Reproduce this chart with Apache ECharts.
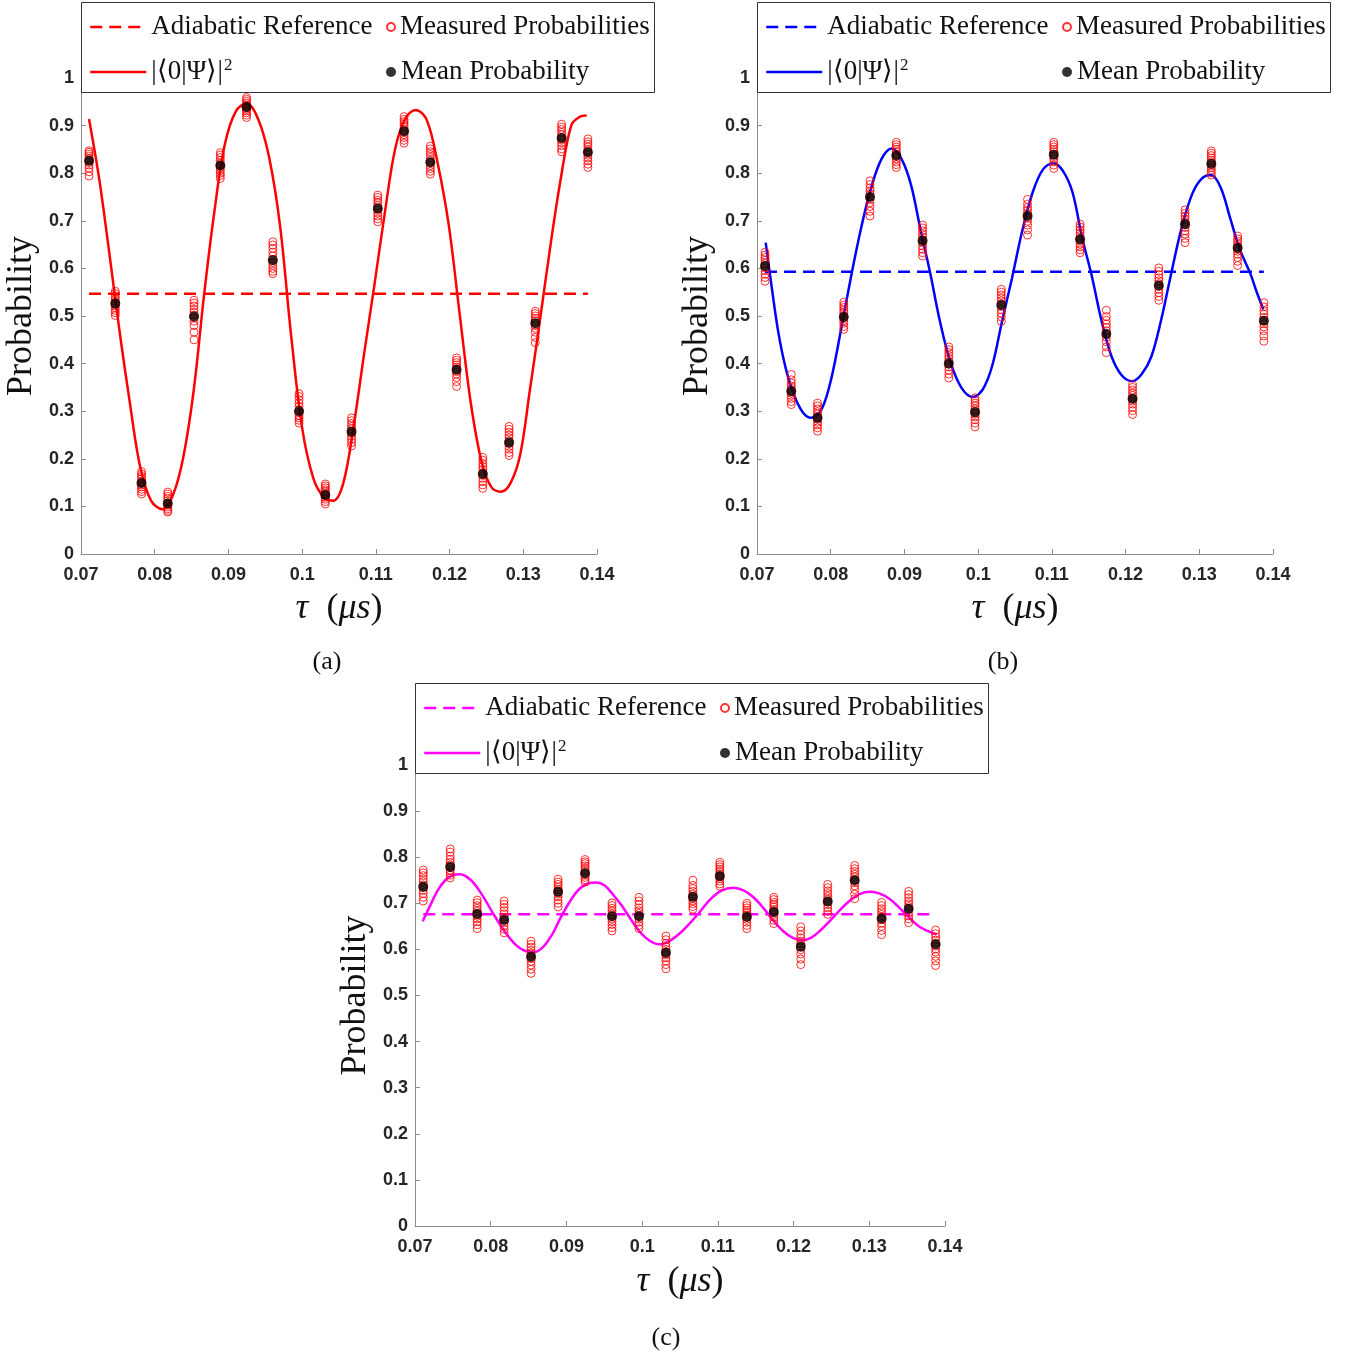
<!DOCTYPE html>
<html><head><meta charset="utf-8">
<script src="https://cdn.jsdelivr.net/npm/echarts@6/dist/echarts.min.js"></script>
<style>html,body{margin:0;padding:0;background:#fff}#c{width:1352px;height:1360px}</style>
</head><body><div id="c"></div>
<script>
// ---------- data ----------
const xTicks = [0.07, 0.08, 0.09, 0.1, 0.11, 0.12, 0.13, 0.14];
const yTicks = [0, 0.1, 0.2, 0.3, 0.4, 0.5, 0.6, 0.7, 0.8, 0.9, 1];
const tau = [0.07109, 0.07465, 0.07821, 0.08177, 0.08533, 0.08890, 0.09246, 0.09602, 0.09958, 0.10314,
             0.10670, 0.11026, 0.11383, 0.11739, 0.12095, 0.12451, 0.12807, 0.13163, 0.13520, 0.13876];
const tauStart = 0.07109, tauEnd = 0.13876;

// panel (a)
const meanA = [0.826, 0.526, 0.149, 0.106, 0.499, 0.816, 0.939, 0.617, 0.300, 0.124,
               0.257, 0.726, 0.888, 0.823, 0.387, 0.168, 0.234, 0.485, 0.874, 0.844];
const measA = [
  [0.847, 0.844, 0.840, 0.836, 0.831, 0.827, 0.822, 0.817, 0.811, 0.803, 0.794],
  [0.552, 0.547, 0.541, 0.536, 0.531, 0.526, 0.522, 0.517, 0.512, 0.507, 0.501],
  [0.173, 0.168, 0.163, 0.158, 0.153, 0.149, 0.145, 0.141, 0.136, 0.131, 0.126],
  [0.130, 0.126, 0.121, 0.117, 0.112, 0.107, 0.103, 0.099, 0.095, 0.091, 0.088],
  [0.533, 0.527, 0.521, 0.514, 0.508, 0.502, 0.496, 0.489, 0.480, 0.466, 0.450],
  [0.843, 0.838, 0.833, 0.827, 0.821, 0.816, 0.811, 0.806, 0.800, 0.795, 0.789],
  [0.959, 0.955, 0.951, 0.947, 0.943, 0.939, 0.935, 0.931, 0.927, 0.922, 0.917],
  [0.656, 0.649, 0.642, 0.634, 0.626, 0.619, 0.612, 0.606, 0.600, 0.594, 0.589],
  [0.337, 0.331, 0.324, 0.317, 0.310, 0.303, 0.297, 0.291, 0.286, 0.281, 0.275],
  [0.147, 0.143, 0.139, 0.135, 0.131, 0.127, 0.123, 0.119, 0.115, 0.110, 0.105],
  [0.286, 0.280, 0.274, 0.268, 0.263, 0.258, 0.253, 0.247, 0.241, 0.234, 0.227],
  [0.754, 0.749, 0.743, 0.738, 0.732, 0.727, 0.722, 0.716, 0.710, 0.704, 0.698],
  [0.919, 0.913, 0.908, 0.903, 0.898, 0.892, 0.887, 0.881, 0.875, 0.869, 0.863],
  [0.857, 0.851, 0.845, 0.839, 0.833, 0.827, 0.822, 0.816, 0.810, 0.804, 0.798],
  [0.412, 0.407, 0.402, 0.397, 0.392, 0.388, 0.383, 0.378, 0.371, 0.362, 0.352],
  [0.203, 0.197, 0.190, 0.184, 0.178, 0.171, 0.165, 0.159, 0.152, 0.145, 0.138],
  [0.268, 0.262, 0.256, 0.250, 0.244, 0.238, 0.232, 0.226, 0.220, 0.213, 0.207],
  [0.510, 0.505, 0.500, 0.495, 0.490, 0.485, 0.480, 0.474, 0.466, 0.455, 0.444],
  [0.903, 0.897, 0.892, 0.886, 0.881, 0.875, 0.870, 0.864, 0.858, 0.851, 0.845],
  [0.872, 0.866, 0.861, 0.855, 0.849, 0.844, 0.838, 0.832, 0.826, 0.819, 0.812]
];
const adiabaticA = 0.547;
const curveTauA = [0.07109, 0.07250, 0.07390, 0.07530, 0.07670, 0.07800, 0.07950, 0.08103,
                   0.08250, 0.08390, 0.08530, 0.08670, 0.08810, 0.08950, 0.09100, 0.09248,
                   0.09400, 0.09550, 0.09700, 0.09850, 0.10000, 0.10150, 0.10290, 0.10423,
                   0.10560, 0.10700, 0.10840, 0.10980, 0.11120, 0.11260, 0.11400, 0.11541,
                   0.11690, 0.11840, 0.11990, 0.12140, 0.12290, 0.12440, 0.12570, 0.12698,
                   0.12830, 0.12960, 0.13090, 0.13230, 0.13370, 0.13510, 0.13650, 0.13760, 0.13861];
const curveValA = [0.914, 0.785, 0.625, 0.460, 0.310, 0.185, 0.112, 0.094,
                   0.125, 0.205, 0.345, 0.545, 0.720, 0.860, 0.930, 0.947,
                   0.915, 0.835, 0.690, 0.460, 0.265, 0.160, 0.120, 0.112,
                   0.150, 0.270, 0.420, 0.565, 0.715, 0.850, 0.915, 0.933,
                   0.912, 0.820, 0.690, 0.500, 0.315, 0.190, 0.140, 0.131,
                   0.150, 0.210, 0.345, 0.495, 0.650, 0.790, 0.900, 0.918, 0.921];

// panel (b)
const meanB = [0.605, 0.342, 0.286, 0.498, 0.750, 0.837, 0.658, 0.400, 0.298, 0.523,
               0.710, 0.839, 0.661, 0.462, 0.326, 0.564, 0.693, 0.820, 0.643, 0.490];
const measB = [
  [0.634, 0.628, 0.623, 0.617, 0.611, 0.606, 0.601, 0.595, 0.588, 0.581, 0.573],
  [0.377, 0.366, 0.359, 0.353, 0.348, 0.343, 0.338, 0.333, 0.327, 0.320, 0.314],
  [0.317, 0.311, 0.305, 0.299, 0.294, 0.288, 0.283, 0.277, 0.271, 0.265, 0.258],
  [0.529, 0.523, 0.518, 0.512, 0.507, 0.501, 0.496, 0.490, 0.485, 0.478, 0.472],
  [0.784, 0.776, 0.769, 0.763, 0.757, 0.751, 0.745, 0.738, 0.730, 0.720, 0.710],
  [0.865, 0.860, 0.855, 0.850, 0.845, 0.840, 0.835, 0.830, 0.824, 0.818, 0.812],
  [0.691, 0.685, 0.679, 0.672, 0.666, 0.660, 0.654, 0.647, 0.640, 0.633, 0.626],
  [0.435, 0.429, 0.423, 0.417, 0.411, 0.405, 0.399, 0.393, 0.386, 0.378, 0.370],
  [0.328, 0.322, 0.317, 0.311, 0.305, 0.300, 0.294, 0.288, 0.282, 0.275, 0.267],
  [0.556, 0.550, 0.544, 0.538, 0.532, 0.526, 0.520, 0.513, 0.506, 0.498, 0.489],
  [0.745, 0.735, 0.728, 0.722, 0.716, 0.711, 0.705, 0.699, 0.691, 0.681, 0.670],
  [0.865, 0.860, 0.855, 0.850, 0.845, 0.840, 0.835, 0.830, 0.824, 0.817, 0.810],
  [0.693, 0.687, 0.681, 0.675, 0.669, 0.663, 0.657, 0.651, 0.645, 0.639, 0.633],
  [0.512, 0.499, 0.491, 0.483, 0.476, 0.469, 0.462, 0.455, 0.446, 0.435, 0.423],
  [0.356, 0.350, 0.344, 0.338, 0.333, 0.327, 0.321, 0.315, 0.308, 0.301, 0.293],
  [0.601, 0.594, 0.587, 0.580, 0.574, 0.568, 0.562, 0.556, 0.549, 0.541, 0.533],
  [0.723, 0.716, 0.710, 0.704, 0.698, 0.692, 0.686, 0.679, 0.672, 0.663, 0.654],
  [0.847, 0.842, 0.837, 0.832, 0.827, 0.822, 0.817, 0.812, 0.807, 0.801, 0.796],
  [0.668, 0.662, 0.657, 0.651, 0.646, 0.641, 0.636, 0.630, 0.623, 0.615, 0.606],
  [0.528, 0.519, 0.511, 0.504, 0.497, 0.490, 0.484, 0.477, 0.469, 0.458, 0.447]
];
const adiabaticB = 0.593;
const curveTauB = [0.07118, 0.07200, 0.07290, 0.07390, 0.07500, 0.07620, 0.07742,
                   0.07880, 0.08010, 0.08150, 0.08285, 0.08420, 0.08550, 0.08690, 0.08827,
                   0.08960, 0.09090, 0.09220, 0.09350, 0.09480, 0.09620, 0.09770, 0.09926,
                   0.10060, 0.10190, 0.10320, 0.10460, 0.10600, 0.10740, 0.10880, 0.11021,
                   0.11150, 0.11280, 0.11410, 0.11540, 0.11680, 0.11810, 0.11950, 0.12092,
                   0.12220, 0.12350, 0.12480, 0.12620, 0.12760, 0.12900, 0.13030, 0.13160,
                   0.13290, 0.13420, 0.13550, 0.13690, 0.13780, 0.13869];
const curveValB = [0.654, 0.560, 0.465, 0.390, 0.335, 0.298, 0.286,
                   0.305, 0.370, 0.480, 0.590, 0.690, 0.770, 0.830, 0.852,
                   0.830, 0.775, 0.680, 0.590, 0.490, 0.405, 0.350, 0.330,
                   0.345, 0.395, 0.486, 0.580, 0.680, 0.760, 0.808, 0.821,
                   0.805, 0.760, 0.665, 0.585, 0.486, 0.415, 0.375, 0.363,
                   0.378, 0.415, 0.490, 0.590, 0.685, 0.755, 0.788, 0.796,
                   0.770, 0.705, 0.640, 0.590, 0.550, 0.514];

// panel (c)
const meanC = [0.736, 0.779, 0.677, 0.664, 0.584, 0.725, 0.765, 0.672, 0.672, 0.593,
               0.714, 0.759, 0.671, 0.681, 0.606, 0.704, 0.750, 0.667, 0.688, 0.611];
const measC = [
  [0.772, 0.766, 0.760, 0.753, 0.747, 0.740, 0.734, 0.728, 0.721, 0.713, 0.705],
  [0.818, 0.811, 0.802, 0.795, 0.789, 0.783, 0.778, 0.772, 0.766, 0.761, 0.755],
  [0.707, 0.701, 0.695, 0.689, 0.683, 0.677, 0.672, 0.666, 0.660, 0.653, 0.645],
  [0.705, 0.698, 0.691, 0.684, 0.677, 0.670, 0.664, 0.658, 0.651, 0.644, 0.636],
  [0.618, 0.611, 0.605, 0.598, 0.592, 0.586, 0.580, 0.574, 0.566, 0.557, 0.548],
  [0.752, 0.746, 0.741, 0.735, 0.730, 0.725, 0.720, 0.714, 0.707, 0.700, 0.692],
  [0.795, 0.790, 0.786, 0.781, 0.776, 0.771, 0.766, 0.761, 0.756, 0.751, 0.746],
  [0.701, 0.695, 0.689, 0.683, 0.677, 0.672, 0.666, 0.660, 0.654, 0.647, 0.640],
  [0.713, 0.705, 0.697, 0.690, 0.684, 0.678, 0.672, 0.666, 0.659, 0.652, 0.645],
  [0.629, 0.621, 0.613, 0.606, 0.600, 0.594, 0.588, 0.582, 0.575, 0.567, 0.558],
  [0.750, 0.739, 0.732, 0.726, 0.720, 0.715, 0.710, 0.705, 0.699, 0.693, 0.687],
  [0.789, 0.784, 0.779, 0.774, 0.769, 0.764, 0.759, 0.754, 0.748, 0.742, 0.737],
  [0.700, 0.695, 0.690, 0.685, 0.680, 0.675, 0.670, 0.665, 0.659, 0.652, 0.645],
  [0.713, 0.708, 0.702, 0.697, 0.692, 0.686, 0.681, 0.676, 0.670, 0.663, 0.656],
  [0.649, 0.640, 0.632, 0.625, 0.618, 0.612, 0.606, 0.599, 0.590, 0.579, 0.567],
  [0.741, 0.734, 0.727, 0.721, 0.715, 0.709, 0.703, 0.697, 0.690, 0.683, 0.676],
  [0.782, 0.775, 0.769, 0.763, 0.757, 0.751, 0.745, 0.738, 0.730, 0.720, 0.710],
  [0.702, 0.695, 0.688, 0.682, 0.676, 0.670, 0.664, 0.657, 0.650, 0.641, 0.632],
  [0.726, 0.719, 0.712, 0.705, 0.699, 0.693, 0.687, 0.680, 0.673, 0.666, 0.658],
  [0.642, 0.634, 0.627, 0.620, 0.613, 0.607, 0.601, 0.594, 0.585, 0.575, 0.565]
];
const adiabaticC = 0.676;
const curveTauC = [0.07102, 0.07200, 0.07300, 0.07400, 0.07500, 0.07594,
                   0.07740, 0.07880, 0.08035, 0.08180, 0.08330, 0.08450, 0.08572,
                   0.08690, 0.08810, 0.08927, 0.09050, 0.09170, 0.09290, 0.09399,
                   0.09510, 0.09620, 0.09730, 0.09840, 0.09960, 0.10090, 0.10228,
                   0.10360, 0.10490, 0.10620, 0.10755, 0.10890, 0.11040, 0.11204,
                   0.11340, 0.11470, 0.11600, 0.11730, 0.11860, 0.11990, 0.12121,
                   0.12240, 0.12360, 0.12480, 0.12600, 0.12730, 0.12870, 0.13010,
                   0.13140, 0.13274, 0.13400, 0.13520, 0.13640, 0.13770, 0.13891];
const curveValC = [0.661, 0.695, 0.728, 0.750, 0.761, 0.763,
                   0.750, 0.720, 0.677, 0.640, 0.610, 0.597, 0.594,
                   0.605, 0.632, 0.670, 0.705, 0.731, 0.743, 0.745,
                   0.738, 0.718, 0.695, 0.668, 0.640, 0.620, 0.611,
                   0.618, 0.634, 0.655, 0.680, 0.707, 0.727, 0.734,
                   0.728, 0.713, 0.690, 0.663, 0.640, 0.625, 0.620,
                   0.626, 0.642, 0.662, 0.683, 0.704, 0.720, 0.725,
                   0.721, 0.709, 0.690, 0.670, 0.652, 0.640, 0.632];

// ---------- chart ----------
const CURVE_NAME = '|\u27E80|\u03A8\u27E9|';
const serif = 'Liberation Serif';
const sans = 'Liberation Sans';
const panels = [
  {key: 'a', color: '#ff0000', mean: meanA, meas: measA, adi: adiabaticA, cT: curveTauA, cV: curveValA,
   grid: {left: 81, top: 78, width: 516, height: 476}, dx: 0, dy: 0, cap: [327, 662], yGap: 41, xGap: 37},
  {key: 'b', color: '#0000ff', mean: meanB, meas: measB, adi: adiabaticB, cT: curveTauB, cV: curveValB,
   grid: {left: 757, top: 78, width: 516, height: 476}, dx: 676, dy: 0, cap: [1003, 662], yGap: 41, xGap: 37},
  {key: 'c', color: '#ff00ff', mean: meanC, meas: measC, adi: adiabaticC, cT: curveTauC, cV: curveValC,
   grid: {left: 415, top: 765, width: 530, height: 461}, dx: 334, dy: 681, cap: [666, 1338], yGap: 41, xGap: 38}
];

const grids = [], xAxes = [], yAxes = [], series = [], legends = [], graphics = [];
const axisLine = {show: true, lineStyle: {color: '#8c8c8c', width: 1}};
const axisLabelStyle = {fontFamily: sans, fontWeight: 'bold', fontSize: 18, color: '#262626'};

panels.forEach((p, i) => {
  grids.push(Object.assign({containLabel: false}, p.grid));
  xAxes.push({
    type: 'value', gridIndex: i, min: xTicks[0], max: xTicks[xTicks.length - 1], interval: 0.01,
    axisLine: axisLine, axisTick: {show: true, inside: true, length: 5, lineStyle: {color: '#8c8c8c'}},
    axisLabel: Object.assign({margin: 12}, axisLabelStyle), splitLine: {show: false},
    name: '{i|\u03C4}  {n|(}{i|\u03BCs}{n|)}', nameLocation: 'middle', nameGap: p.xGap,
    nameTextStyle: {fontFamily: serif, fontSize: 36, color: '#111',
      rich: {i: {fontFamily: serif, fontStyle: 'italic', fontSize: 36, color: '#111'},
             n: {fontFamily: serif, fontSize: 36, color: '#111'}}}
  });
  yAxes.push({
    type: 'value', gridIndex: i, min: yTicks[0], max: yTicks[yTicks.length - 1], interval: 0.1,
    axisLine: axisLine, axisTick: {show: true, inside: true, length: 5, lineStyle: {color: '#8c8c8c'}},
    axisLabel: Object.assign({margin: 7}, axisLabelStyle), splitLine: {show: false},
    name: 'Probability', nameLocation: 'middle', nameGap: p.yGap, nameRotate: 90,
    nameTextStyle: {fontFamily: serif, fontSize: 36, color: '#111'}
  });
  const nAdi = 'Adiabatic Reference ' + p.key, nCur = CURVE_NAME + ' ' + p.key,
        nMeas = 'Measured Probabilities ' + p.key, nMean = 'Mean Probability ' + p.key;
  series.push({
    name: nAdi, type: 'line', xAxisIndex: i, yAxisIndex: i, symbol: 'none', z: 2,
    data: [[tauStart, p.adi], [tauEnd, p.adi]],
    lineStyle: {color: p.color, width: 2.5, type: [12, 7]}, itemStyle: {color: p.color}
  });
  series.push({
    name: nCur, type: 'line', xAxisIndex: i, yAxisIndex: i, symbol: 'none', z: 3, smooth: 0.35,
    data: p.cT.map((t, k) => [t, p.cV[k]]),
    lineStyle: {color: p.color, width: 2.5}, itemStyle: {color: p.color}
  });
  const measData = [];
  p.meas.forEach((grp, k) => grp.forEach(v => measData.push([tau[k], v])));
  series.push({
    name: nMeas, type: 'scatter', xAxisIndex: i, yAxisIndex: i, z: 4, symbol: 'circle', symbolSize: 8,
    data: measData, itemStyle: {color: 'rgba(255,255,255,0)', borderColor: '#ff0000', borderWidth: 1}
  });
  series.push({
    name: nMean, type: 'scatter', xAxisIndex: i, yAxisIndex: i, z: 5, symbol: 'circle', symbolSize: 10,
    data: p.mean.map((v, k) => [tau[k], v]), itemStyle: {color: '#000'}
  });

  // legend frame
  graphics.push({type: 'rect', z: 50, shape: {x: 81.5 + p.dx, y: 2.5 + p.dy, width: 573, height: 90},
    style: {fill: '#fff', stroke: '#333', lineWidth: 1}});
  const lt = {fontFamily: serif, fontSize: 27, color: '#111', lineHeight: 30,
    rich: {t: {fontFamily: serif, fontSize: 27, color: '#111', lineHeight: 30},
           s: {fontFamily: serif, fontSize: 17, color: '#111', verticalAlign: 'top', lineHeight: 30, padding: [0, 0, 16, 1]}}};
  const strip = n => n.replace(/ [abc]$/, '');
  const lg = (name, left, top, w, h, fmt, isLine, dashed) => {
    const o = {
      data: [name], left: left + p.dx, top: top + p.dy, padding: 0, itemWidth: w, itemHeight: h, itemGap: 0,
      selectedMode: false, z: 60, textStyle: lt, formatter: fmt || strip
    };
    if (isLine) {
      o.itemStyle = {opacity: 0};
      o.lineStyle = {width: 2.5, color: p.color, type: dashed ? [12, 7] : 'solid'};
    }
    return o;
  };
  legends.push(lg(nAdi, 89, 12, 56, 30, null, true, true));
  legends.push(lg(nMeas, 386, 12, 8, 30));
  legends.push(lg(nCur, 89, 57, 56, 30, n => '{t|' + strip(n) + '}{s|2}', true, false));
  legends.push(lg(nMean, 386, 57, 10, 30));

  graphics.push({type: 'text', z: 50, x: p.cap[0], y: p.cap[1],
    style: {text: '(' + p.key + ')', fontFamily: serif, fontSize: 26, fill: '#111', textAlign: 'center', textVerticalAlign: 'middle'}});
});

const chart = echarts.init(document.getElementById('c'), null, {renderer: 'canvas'});
chart.setOption({
  animation: false, backgroundColor: '#fff',
  grid: grids, xAxis: xAxes, yAxis: yAxes, series: series, legend: legends, graphic: graphics
});
</script></body></html>
